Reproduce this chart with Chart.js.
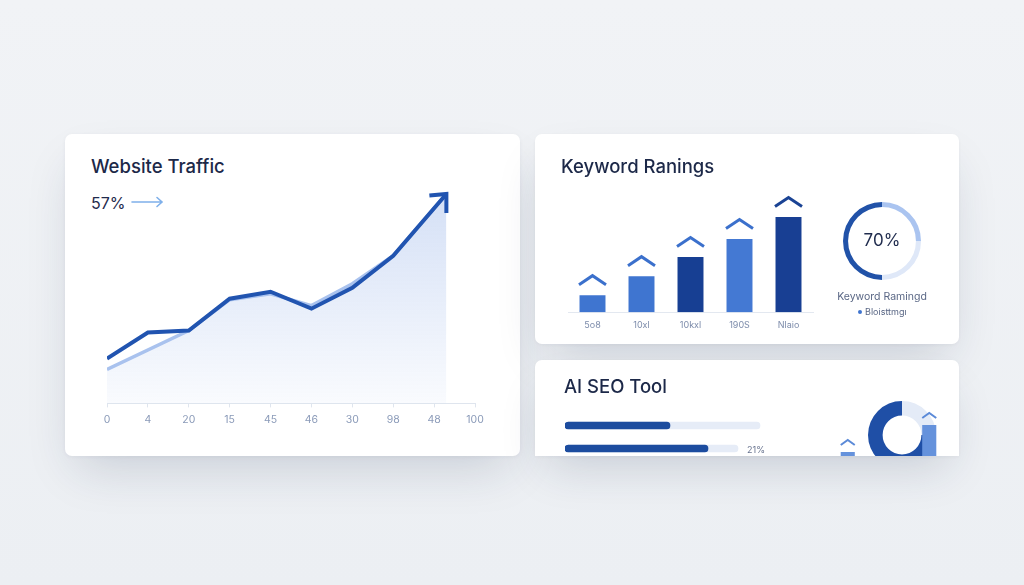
<!DOCTYPE html>
<html>
<head>
<meta charset="utf-8">
<script src="https://cdn.jsdelivr.net/npm/chart.js@4.4.0/dist/chart.umd.min.js"></script>
<style>
  html, body { margin: 0; padding: 0; width: 1024px; height: 585px; overflow: hidden; }
  body {
    position: relative;
    background: linear-gradient(180deg, #f1f3f6 0%, #eceff3 100%);
    font-family: Inter, "Noto Sans", sans-serif;
  }
  .card {
    position: absolute;
    background: #fff;
    border-radius: 7px;
    overflow: hidden;
    box-shadow: 0 22px 46px -12px rgba(30, 45, 80, 0.18), 0 1px 4px rgba(30, 45, 80, 0.05);
  }
  .card canvas, .card .txt { position: absolute; }
  .title { font-size: 18.5px; font-weight: 500; color: #1c2848; line-height: 19px; white-space: nowrap; }
</style>
</head>
<body>

<div class="card" style="left:65px;top:134px;width:455px;height:322px;">
  <div class="txt title" style="left:26px;top:23px;">Website Traffic</div>
  <div class="txt" style="left:26px;top:61px;font-size:16px;line-height:16px;color:#1f2b4d;">57%</div>
  <svg class="txt" style="left:66px;top:62px;" width="34" height="12">
    <path d="M1 6 H31 M26 1.5 L31 6 L26 10.5" stroke="#7fb0ea" stroke-width="1.6" fill="none" stroke-linecap="round"/>
  </svg>
  <canvas id="traffic" width="410" height="256" style="left:20px;top:46px;"></canvas>
</div>

<div class="card" style="left:535px;top:134px;width:424px;height:210px;">
  <div class="txt title" style="left:26px;top:23px;">Keyword Ranings</div>
  <canvas id="keywords" width="262" height="153" style="left:25px;top:56px;"></canvas>
  <canvas id="kwRing" width="78" height="78" style="left:308px;top:68px;"></canvas>
  <div class="txt" style="left:308px;top:98px;width:78px;text-align:center;font-size:17px;line-height:17px;color:#1f2b4d;">70%</div>
  <div class="txt" style="left:287px;top:157px;width:120px;text-align:center;font-size:10.5px;line-height:12px;color:#5a6785;">Keyword Ramingd</div>
  <div class="txt" style="left:323px;top:172px;font-size:9px;line-height:11px;color:#5a6785;"><span style="display:inline-block;width:4px;height:4px;border-radius:2px;background:#3f74cf;margin-right:3px;vertical-align:1px;"></span>Bloisttmgı</div>
</div>

<div class="card" style="left:535px;top:360px;width:424px;height:96px;border-bottom-left-radius:0;border-bottom-right-radius:0;">
  <div class="txt title" style="left:29px;top:17px;">AI SEO Tool</div>
  <canvas id="progress" width="200" height="46" style="left:30px;top:54px;"></canvas>
  <div class="txt" style="left:212px;top:84px;font-size:9px;line-height:11px;color:#6a7590;">21%</div>
  <canvas id="seoRing" width="68" height="68" style="left:333px;top:41px;"></canvas>
  <canvas id="miniBars" width="163" height="80" style="left:272px;top:40px;"></canvas>
</div>

<script>
// website traffic
const trafficTicks = ["0", "4", "20", "15", "45", "46", "30", "98", "48", "100"];
const trafficX = [0, 1, 2, 3, 4, 5, 6, 7, 8.3];
const trafficY = [45, 71, 73, 105, 112, 95, 116, 148, 210];
const baselineX = [0, 2, 3, 4, 5, 6, 7, 8.3];
const baselineY = [34, 73, 104, 110, 98, 120, 148, 210];

// keyword rankings
const kwLabels = ["5o8", "10xl", "10kxl", "190S", "Nlaio"];
const kwValues = [17, 36, 55, 73, 95];
const kwRingValues = [25, 25, 50];

// ai seo tool
const progressTrack = [195, 173];
const progressFill = [105, 143];
const seoRingValues = [25, 75];
const miniBarValues = [28, 55];

const toPoints = (xs, ys) => xs.map((x, i) => ({ x: x, y: ys[i] }));

const arrowHead = {
  id: "arrowHead",
  afterDatasetsDraw(chart) {
    const pts = chart.getDatasetMeta(0).data;
    const tip = pts[pts.length - 1];
    const ctx = chart.ctx;
    ctx.save();
    ctx.strokeStyle = "#2154b0";
    ctx.lineWidth = 4;
    ctx.lineJoin = "miter";
    ctx.beginPath();
    ctx.moveTo(tip.x - 17, tip.y + 1.5);
    ctx.lineTo(tip.x, tip.y);
    ctx.lineTo(tip.x, tip.y + 19);
    ctx.stroke();
    ctx.restore();
  },
};

new Chart(document.querySelector("#traffic"), {
  type: "line",
  data: {
    datasets: [
      {
        data: toPoints(trafficX, trafficY),
        borderColor: "#2154b0",
        borderWidth: 4,
        pointRadius: 0,
        fill: false,
        tension: 0,
      },
      {
        data: toPoints(baselineX, baselineY),
        borderColor: "#a9c2ee",
        borderWidth: 3.5,
        pointRadius: 0,
        fill: "origin",
        tension: 0,
        backgroundColor: (ctx) => {
          const area = ctx.chart.chartArea;
          if (!area) return "rgba(70,120,215,0.1)";
          const g = ctx.chart.ctx.createLinearGradient(0, area.top, 0, area.bottom);
          g.addColorStop(0, "rgba(70,120,215,0.24)");
          g.addColorStop(1, "rgba(70,120,215,0.03)");
          return g;
        },
      },
    ],
  },
  options: {
    responsive: false,
    animation: false,
    layout: { padding: { left: 22, right: 20, top: 3, bottom: 4 } },
    plugins: { legend: { display: false }, tooltip: { enabled: false } },
    scales: {
      x: {
        type: "linear",
        min: 0,
        max: 9,
        border: { display: true, color: "#dfe5ee", width: 1 },
        grid: { drawOnChartArea: false, drawTicks: true, tickLength: 4, color: "#dfe5ee" },
        ticks: {
          stepSize: 1,
          autoSkip: false,
          maxRotation: 0,
          padding: 6,
          color: "#8a9ab8",
          font: { family: "Inter", size: 10.5 },
          callback: (v) => trafficTicks[v],
        },
      },
      y: { display: false, min: 0, max: 221 },
    },
  },
  plugins: [arrowHead],
});

const chevrons = (colors, half, rise, gap, width) => ({
  id: "chevrons",
  afterDatasetsDraw(chart) {
    const ctx = chart.ctx;
    ctx.save();
    ctx.lineWidth = width;
    ctx.lineJoin = "miter";
    chart.getDatasetMeta(0).data.forEach((bar, i) => {
      ctx.strokeStyle = colors[i];
      ctx.beginPath();
      ctx.moveTo(bar.x - half, bar.y - gap);
      ctx.lineTo(bar.x, bar.y - gap - rise);
      ctx.lineTo(bar.x + half, bar.y - gap);
      ctx.stroke();
    });
    ctx.restore();
  },
});

new Chart(document.querySelector("#keywords"), {
  type: "bar",
  data: {
    labels: kwLabels,
    datasets: [
      {
        data: kwValues,
        backgroundColor: ["#3f75d0", "#3f75d0", "#173f93", "#4479d3", "#183f93"],
        barPercentage: 0.53,
        categoryPercentage: 1,
      },
    ],
  },
  options: {
    responsive: false,
    animation: false,
    layout: { padding: { left: 8, right: 9, top: 7, bottom: 4 } },
    plugins: { legend: { display: false }, tooltip: { enabled: false } },
    scales: {
      x: {
        border: { display: true, color: "#e3e8f0" },
        grid: { display: false, drawTicks: false },
        ticks: { padding: 8, color: "#7d8cab", font: { family: "Inter", size: 9 } },
      },
      y: { display: false, min: 0, max: 115 },
    },
  },
  plugins: [chevrons(["#3b70cc", "#3b70cc", "#3b70cc", "#3b70cc", "#1a4394"], 13.5, 9, 10.5, 3)],
});

new Chart(document.querySelector("#kwRing"), {
  type: "doughnut",
  data: {
    datasets: [
      {
        data: kwRingValues,
        backgroundColor: ["#aac4f0", "#dfe8f8", "#2152a8"],
        borderWidth: 0,
      },
    ],
  },
  options: {
    responsive: false,
    animation: false,
    cutout: "87%",
    plugins: { legend: { display: false }, tooltip: { enabled: false } },
  },
});

new Chart(document.querySelector("#progress"), {
  type: "bar",
  data: {
    labels: ["a", "b"],
    datasets: [
      {
        data: progressFill,
        backgroundColor: "#1c4c9f",
        borderRadius: 4,
        borderSkipped: false,
        barThickness: 7,
        order: 0,
      },
      {
        data: progressTrack,
        backgroundColor: "#e6ecf7",
        borderRadius: 4,
        borderSkipped: false,
        barThickness: 7,
        order: 1,
      },
    ],
  },
  options: {
    indexAxis: "y",
    responsive: false,
    animation: false,
    layout: { padding: 0 },
    plugins: { legend: { display: false }, tooltip: { enabled: false } },
    scales: {
      x: { display: false, min: 0, max: 200 },
      y: { display: false, stacked: false },
    },
    datasets: { bar: { grouped: false } },
  },
});

new Chart(document.querySelector("#seoRing"), {
  type: "doughnut",
  data: {
    datasets: [
      {
        data: seoRingValues,
        backgroundColor: ["#e4ebf7", "#1f4fa6"],
        borderWidth: 0,
      },
    ],
  },
  options: {
    responsive: false,
    animation: false,
    cutout: "57%",
    plugins: { legend: { display: false }, tooltip: { enabled: false } },
  },
});

new Chart(document.querySelector("#miniBars"), {
  type: "bar",
  data: {
    labels: ["a", "b"],
    datasets: [
      {
        data: miniBarValues,
        backgroundColor: "#6592dc",
        barPercentage: 0.173,
        categoryPercentage: 1,
      },
    ],
  },
  options: {
    responsive: false,
    animation: false,
    layout: { padding: 0 },
    plugins: { legend: { display: false }, tooltip: { enabled: false } },
    scales: {
      x: { display: false },
      y: { display: false, min: 0, max: 80 },
    },
  },
  plugins: [chevrons(["#5b8ad8", "#5b8ad8"], 7, 5, 7, 2)],
});
</script>
</body>
</html>
